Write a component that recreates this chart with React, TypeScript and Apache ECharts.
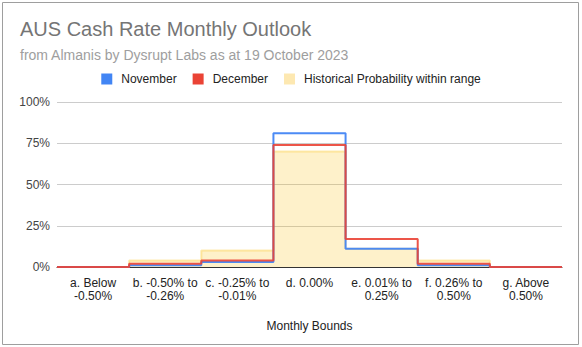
import React, { useEffect, useRef } from "react";
import * as echarts from "echarts";

const categories = [
  "a. Below\n-0.50%",
  "b. -0.50% to\n-0.26%",
  "c. -0.25% to\n-0.01%",
  "d. 0.00%",
  "e. 0.01% to\n0.25%",
  "f. 0.26% to\n0.50%",
  "g. Above\n0.50%",
];
const november = [0, 0.01, 0.03, 0.81, 0.11, 0.01, 0];
const december = [0, 0.02, 0.04, 0.74, 0.17, 0.02, 0];
const historical = [0, 0.04, 0.1, 0.7, 0.11, 0.04, 0];
const yTicks = [0, 0.25, 0.5, 0.75, 1];

const FONT = '"Liberation Sans", Arial, sans-serif';

function steps(vals: number[]): number[][] {
  const pts = vals.map((v, i) => [i, v]);
  pts.push([vals.length, vals[vals.length - 1]]);
  return pts;
}

export default function App() {
  const ref = useRef<HTMLDivElement>(null);
  useEffect(() => {
    if (!ref.current) return;
    const chart = echarts.init(ref.current, undefined, { renderer: "svg" });
    chart.setOption({
      animation: false,
      backgroundColor: "#ffffff",
      title: [
        {
          text: "AUS Cash Rate Monthly Outlook",
          left: 20,
          top: 19,
          padding: 0,
          textStyle: { fontFamily: FONT, fontSize: 20, fontWeight: "normal", color: "#757575" },
        },
        {
          text: "from Almanis by Dysrupt Labs as at 19 October 2023",
          left: 20,
          top: 48,
          padding: 0,
          textStyle: { fontFamily: FONT, fontSize: 14, fontWeight: "normal", color: "#9e9e9e" },
        },
      ],
      legend: {
        top: 73,
        left: "center",
        padding: 0,
        icon: "rect",
        itemWidth: 11,
        itemHeight: 11,
        itemGap: 16,
        textStyle: { fontFamily: FONT, fontSize: 12, color: "#222", padding: [0, 0, 0, 4] },
        data: [
          { name: "November", itemStyle: { color: "#4285F4", borderWidth: 0 } },
          { name: "December", itemStyle: { color: "#EA4335", borderWidth: 0 } },
          { name: "Historical Probability within range", itemStyle: { color: "#FDE8B1", borderWidth: 0 } },
        ],
      },
      grid: { left: 57, right: 20, top: 102, bottom: 80, containLabel: false },
      xAxis: [
        {
          type: "category",
          data: categories,
          boundaryGap: true,
          axisLine: { show: true, lineStyle: { color: "#333", width: 1 } },
          axisTick: { show: false },
          splitLine: { show: false },
          axisLabel: {
            interval: 0,
            margin: 9,
            fontFamily: FONT,
            fontSize: 12,
            lineHeight: 13,
            color: "#222",
          },
          name: "Monthly Bounds",
          nameLocation: "middle",
          nameGap: 53,
          nameTextStyle: { fontFamily: FONT, fontSize: 12, color: "#222" },
        },
        {
          type: "value",
          min: 0,
          max: categories.length,
          show: false,
        },
      ],
      yAxis: {
        type: "value",
        min: 0,
        max: 1,
        interval: 0.25,
        axisLine: { show: false },
        axisTick: { show: false },
        splitLine: { lineStyle: { color: "#cccccc", width: 1 } },
        axisLabel: {
          fontFamily: FONT,
          fontSize: 12,
          color: "#444",
          margin: 7,
          formatter: (v: number) => (yTicks.includes(v) ? Math.round(v * 100) + "%" : ""),
        },
      },
      series: [
        {
          name: "Historical Probability within range",
          type: "line",
          xAxisIndex: 1,
          step: "end",
          showSymbol: false,
          symbol: "none",
          data: steps(historical),
          itemStyle: { color: "#FDE8B1" },
          lineStyle: { color: "rgba(251,188,4,0.3)", width: 2 },
          areaStyle: { color: "rgba(251,188,4,0.3)", origin: "start" },
          z: 2,
        },
        {
          name: "November",
          type: "line",
          xAxisIndex: 1,
          step: "end",
          showSymbol: false,
          symbol: "none",
          data: steps(november),
          itemStyle: { color: "#4285F4" },
          lineStyle: { color: "#4285F4", width: 2, opacity: 0.95 },
          z: 3,
        },
        {
          name: "December",
          type: "line",
          xAxisIndex: 1,
          step: "end",
          showSymbol: false,
          symbol: "none",
          data: steps(december),
          itemStyle: { color: "#EA4335" },
          lineStyle: { color: "#EA4335", width: 2, opacity: 0.9 },
          z: 4,
        },
      ],
      graphic: [
        {
          type: "rect",
          silent: true,
          shape: { x: 2.5, y: 2.5, width: 576, height: 342 },
          style: { fill: "none", stroke: "#9e9e9e", lineWidth: 1 },
        },
      ],
    });
    return () => chart.dispose();
  }, []);
  return (
    <div
      ref={ref}
      style={{ position: "absolute", left: 0, top: 0, width: 582, height: 347 }}
    />
  );
}
